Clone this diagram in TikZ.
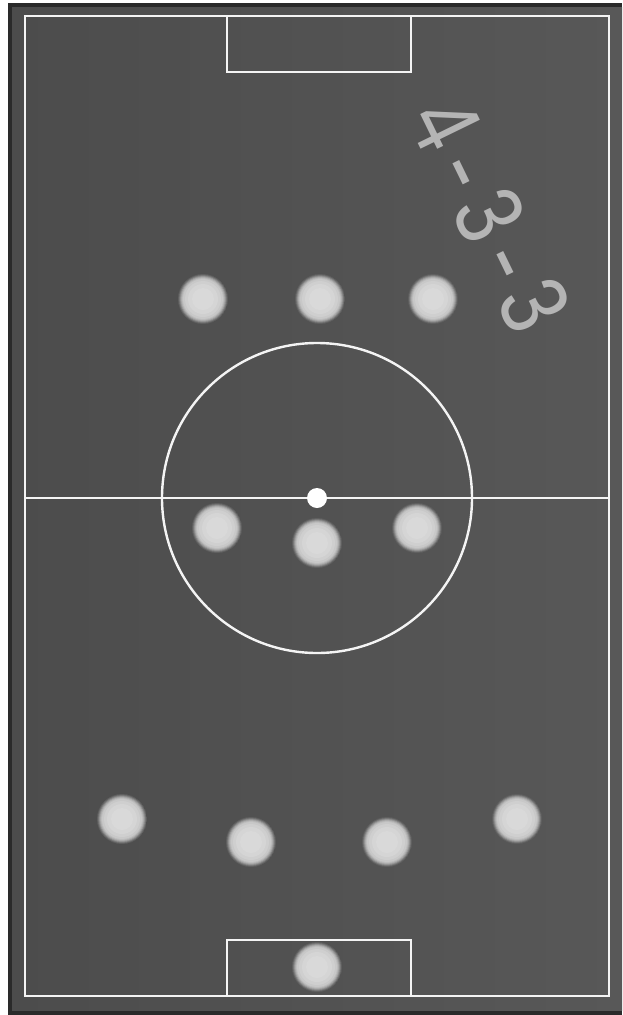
\documentclass[tikz,border=0pt]{standalone}
\usepackage{fontspec}
\setmainfont{Liberation Sans}
\definecolor{board}{RGB}{82,82,82}
\definecolor{boardL}{RGB}{76,76,76}
\definecolor{boardR}{RGB}{88,88,88}
\definecolor{frame}{RGB}{42,42,42}
\definecolor{chalk}{RGB}{180,180,180}
\definecolor{pline}{RGB}{244,244,244}
\tikzset{
  pitch/.style={draw=pline, line width=2.4pt},
  player/.style={circle, minimum size=50pt, inner sep=0pt,
    path picture={
      \foreach \r/\p in {25/8,24/22,23/38,22/52,21/62,20/68,18/72,15/76,11/78}{
        \fill[white!\p!board] (path picture bounding box.center) circle[radius=\r pt];
      }}},
  chalktext/.style={text=chalk, font=\fontsize{96}{96}\selectfont, rotate=-64, inner sep=0pt}
}
\begin{document}
\begin{tikzpicture}[x=1pt,y=-1pt]
\useasboundingbox (0,0) rectangle (622,1015);
\fill[white] (0,0) rectangle (622,1015);
\fill[frame] (8,3) rectangle (622,1015);
\shade[left color=boardL, right color=boardR] (12,7) rectangle (622,1010);
% pitch markings
\draw[pitch] (25,16) rectangle (609,996);
\draw[pitch] (25,498) -- (609,498);
\draw[pitch] (317,498) circle[radius=155pt];
\draw[pitch] (227,16) rectangle (411,72);
\draw[pitch] (227,940) rectangle (411,996);
\node[circle, fill=white, minimum size=20pt, inner sep=0pt] (spot) at (317,498) {};
% forwards
\node[player] (fw1) at (203,299) {};
\node[player] (fw2) at (320,299) {};
\node[player] (fw3) at (433,299) {};
% midfielders
\node[player] (mf1) at (217,528) {};
\node[player] (mf2) at (317,543) {};
\node[player] (mf3) at (417,528) {};
% defenders
\node[player] (df1) at (122,819) {};
\node[player] (df2) at (251,842) {};
\node[player] (df3) at (387,842) {};
\node[player] (df4) at (517,819) {};
% goalkeeper
\node[player] (gk) at (317,967) {};
% formation label
\node[chalktext] (label) at (490,215) {\scalebox{0.8}[1]{4}\hspace{13pt}-\hspace{13pt}\scalebox{0.8}[1]{3}\hspace{13pt}-\hspace{13pt}\scalebox{0.8}[1]{3}};
\end{tikzpicture}
\end{document}
